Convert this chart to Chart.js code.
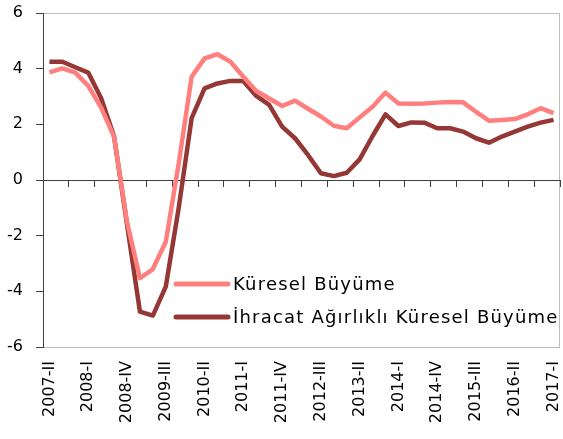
<!DOCTYPE html>
<html>
<head>
<meta charset="utf-8">
<script src="https://cdn.jsdelivr.net/npm/chart.js@4.4.1/dist/chart.umd.min.js"></script>
<style>
  html, body { margin: 0; padding: 0; background: #fff; }
  #wrap { width: 563px; height: 439px; }
</style>
</head>
<body>
<div id="wrap"><canvas id="chart"></canvas></div>
<script>
var quarters = [
  '2007-II', '2007-III', '2007-IV',
  '2008-I', '2008-II', '2008-III', '2008-IV',
  '2009-I', '2009-II', '2009-III', '2009-IV',
  '2010-I', '2010-II', '2010-III', '2010-IV',
  '2011-I', '2011-II', '2011-III', '2011-IV',
  '2012-I', '2012-II', '2012-III', '2012-IV',
  '2013-I', '2013-II', '2013-III', '2013-IV',
  '2014-I', '2014-II', '2014-III', '2014-IV',
  '2015-I', '2015-II', '2015-III', '2015-IV',
  '2016-I', '2016-II', '2016-III', '2016-IV',
  '2017-I'
];

var kuresel = [3.87, 4.01, 3.86, 3.38, 2.60, 1.55, -1.50, -3.53, -3.20, -2.22,
               0.60, 3.71, 4.37, 4.52, 4.25, 3.71, 3.20, 2.93, 2.66, 2.85,
               2.56, 2.28, 1.95, 1.86, 2.25, 2.63, 3.14, 2.75, 2.74, 2.75,
               2.78, 2.80, 2.79, 2.45, 2.13, 2.16, 2.19, 2.36, 2.58, 2.40];

var ihracat = [4.25, 4.25, 4.05, 3.86, 2.94, 1.56, -1.60, -4.73, -4.87, -3.83,
               -1.00, 2.22, 3.29, 3.47, 3.56, 3.56, 3.02, 2.70, 1.92, 1.50,
               0.90, 0.24, 0.14, 0.26, 0.74, 1.58, 2.36, 1.94, 2.07, 2.06,
               1.86, 1.86, 1.74, 1.50, 1.34, 1.56, 1.74, 1.92, 2.06, 2.16];

var seriesNames = ['Küresel Büyüme', 'İhracat Ağırlıklı Küresel Büyüme'];
var seriesColors = ['#FF7F7F', '#953735'];

var FONT = '"DejaVu Sans", sans-serif';
var AXIS = '#404040';

// gray box round the plot area
var frame = {
  id: 'frame',
  beforeDraw: function(chart) {
    var a = chart.chartArea, ctx = chart.ctx;
    ctx.save();
    ctx.strokeStyle = '#BDBDBD';
    ctx.lineWidth = 1;
    ctx.strokeRect(Math.round(a.left) + 0.5, Math.round(a.top) + 0.5,
                   Math.round(a.right - a.left) - 1, Math.round(a.bottom - a.top));
    ctx.restore();
  }
};

// legend drawn inside the plot, lower right
var innerLegend = {
  id: 'innerLegend',
  afterDatasetsDraw: function(chart) {
    var a = chart.chartArea, ctx = chart.ctx;
    var x0 = a.left + 133, y0 = a.top + 271, gap = 33;
    ctx.save();
    ctx.font = '18px ' + FONT;
    ctx.letterSpacing = '1.2px';
    ctx.textBaseline = 'middle';
    ctx.fillStyle = '#000';
    seriesNames.forEach(function(name, i) {
      var y = y0 + i * gap;
      ctx.strokeStyle = seriesColors[i];
      ctx.lineWidth = 5;
      ctx.lineCap = 'round';
      ctx.beginPath();
      ctx.moveTo(x0, y);
      ctx.lineTo(x0 + 52, y);
      ctx.stroke();
      ctx.fillText(name, x0 + 57, y + 1);
    });
    ctx.restore();
  }
};

function noPad(scale) {
  scale.paddingTop = 0;
  scale.paddingBottom = 0;
  scale.paddingLeft = 0;
  scale.paddingRight = 0;
}

new Chart(document.getElementById('chart'), {
  type: 'line',
  data: {
    labels: quarters,
    datasets: [
      { label: seriesNames[0], data: kuresel, borderColor: seriesColors[0],
        borderWidth: 4.5, pointRadius: 0, tension: 0, borderJoinStyle: 'round' },
      { label: seriesNames[1], data: ihracat, borderColor: seriesColors[1],
        borderWidth: 4.5, pointRadius: 0, tension: 0, borderJoinStyle: 'round' }
    ]
  },
  options: {
    responsive: true,
    maintainAspectRatio: false,
    animation: false,
    layout: { padding: { top: 13, right: 3, left: 0, bottom: 0 } },
    plugins: { legend: { display: false }, tooltip: { enabled: false } },
    scales: {
      x: {
        type: 'category',
        position: 'bottom',
        offset: true,
        grid: { display: false },
        border: { display: false },
        ticks: {
          autoSkip: false,
          minRotation: 90,
          maxRotation: 90,
          padding: 6,
          color: '#000',
          font: { family: FONT, size: 16 },
          callback: function(v, i) { return i % 3 === 0 ? quarters[i] : ''; }
        },
        afterFit: function(scale) { scale.height = 92; noPad(scale); }
      },
      x0: {
        type: 'category',
        position: { y: 0 },
        offset: true,
        grid: {
          offset: true,
          drawOnChartArea: false,
          tickLength: 6,
          tickColor: function(c) {
            return (c.type === 'scale' || c.index % 2 === 0) ? AXIS : 'rgba(0,0,0,0)';
          }
        },
        border: { color: AXIS, width: 1 },
        ticks: { display: false, autoSkip: false },
        afterFit: noPad
      },
      y: {
        min: -6,
        max: 6,
        ticks: {
          stepSize: 2,
          padding: 13,
          color: '#000',
          font: { family: FONT, size: 16 }
        },
        grid: { drawOnChartArea: false, tickLength: 7, tickColor: AXIS },
        border: { color: AXIS, width: 1 },
        afterFit: function(scale) { scale.width = 43; noPad(scale); }
      }
    }
  },
  plugins: [frame, innerLegend]
});
</script>
</body>
</html>
